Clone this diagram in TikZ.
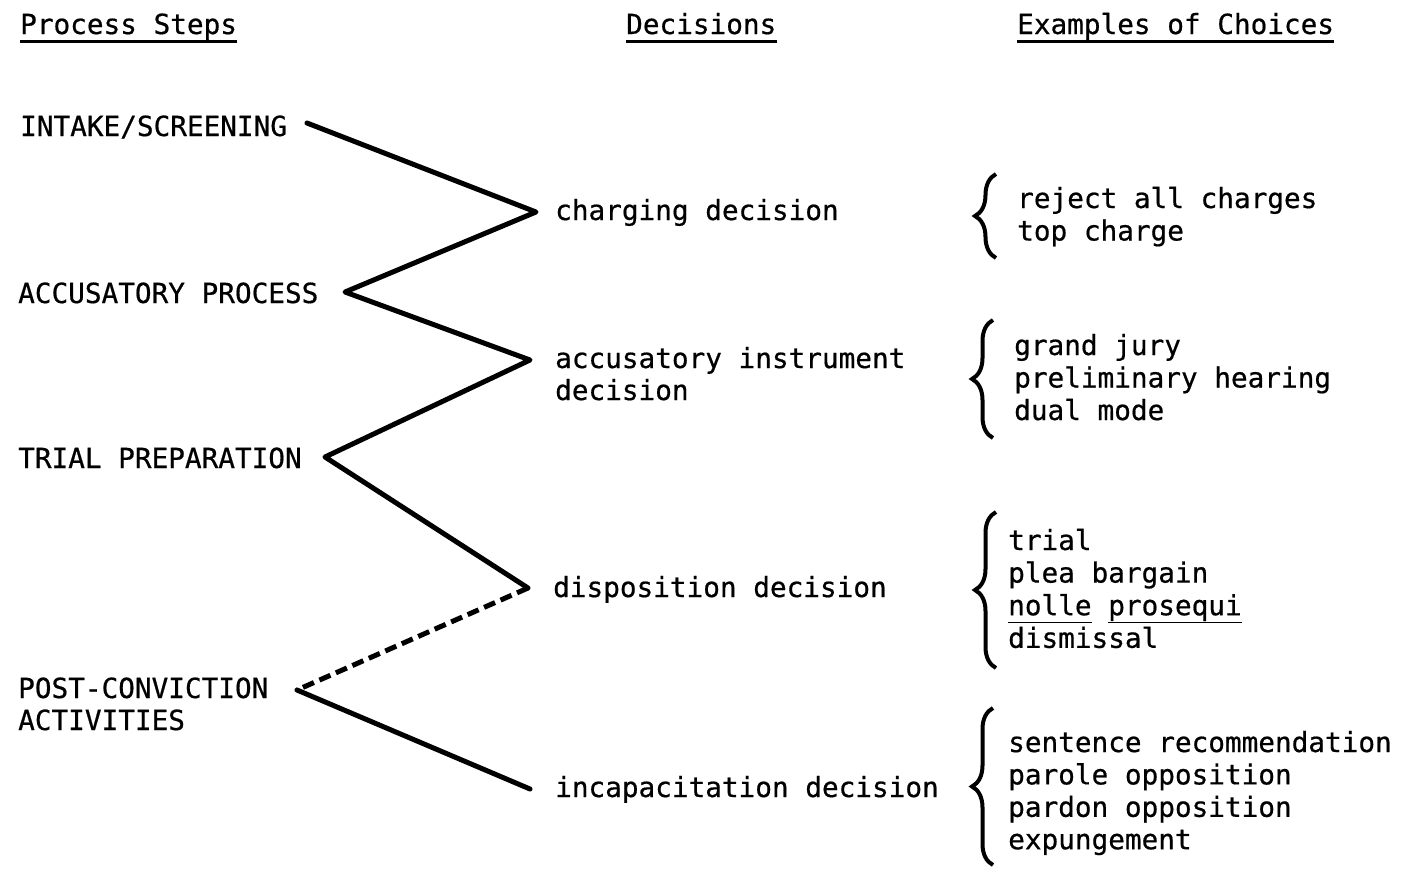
\documentclass[tikz,border=0pt]{standalone}
\usepackage{fontspec}
\setmainfont[FakeBold=0.6,AutoFakeBold=0.6]{DejaVu Sans Mono}
\usetikzlibrary{decorations.pathreplacing}
\tikzset{
  lbl/.style={inner sep=0pt, anchor=base west, font=\fontsize{27.7}{32.5}\selectfont\bfseries},
  link/.style={line width=5pt, line cap=round, line join=round},
  bracket/.style={line width=4pt, decorate, decoration={brace, amplitude=21pt}},
  rule/.style={line width=3pt}
}
\begin{document}
\begin{tikzpicture}[x=1pt,y=-1pt]
  \useasboundingbox (0,0) rectangle (1405,868);
  % column headers
  \node[lbl] (hdsteps) at (20,34) {Process Steps};
  \node[lbl] (hddec) at (626,34) {Decisions};
  \node[lbl] (hdex) at (1017,34) {Examples of Choices};
  \foreach \h in {hdsteps,hddec,hdex}
    \draw[rule] ([yshift=-7pt]\h.base west) -- ([yshift=-7pt]\h.base east);
  % process steps
  \node[lbl] (intake) at (20,136) {INTAKE/SCREENING};
  \node[lbl] (accuse) at (18,303) {ACCUSATORY PROCESS};
  \node[lbl] (trial) at (18,468) {TRIAL PREPARATION};
  \node[lbl] (post) at (18,698) {POST-CONVICTION};
  \node[lbl] (postb) at (18,730) {ACTIVITIES};
  % decisions
  \node[lbl] (charging) at (555,220) {charging decision};
  \node[lbl] (instr) at (555,368) {accusatory instrument};
  \node[lbl] (instrb) at (555,400) {decision};
  \node[lbl] (dispo) at (553,597) {disposition decision};
  \node[lbl] (incap) at (555,797) {incapacitation decision};
  % zigzag
  \coordinate (s1) at (307,123);
  \coordinate (d1) at (536,212);
  \coordinate (s2) at (345,292);
  \coordinate (d2) at (530,360);
  \coordinate (s3) at (325,457);
  \coordinate (d3) at (528,588);
  \coordinate (s4) at (297,690);
  \coordinate (d4) at (530,789);
  \draw[link] (s1) -- (d1) -- (s2) -- (d2) -- (s3) -- (d3);
  \draw[link, line cap=butt, dash pattern=on 12pt off 6pt] (d3) -- (s4);
  \draw[link] (s4) -- (d4);
  % examples of choices
  \draw[bracket] (996,258) -- (996,174);
  \foreach \t [count=\i] in {reject all charges, top charge}
    \node[lbl] (chg-\i) at (1017,208+32.5*\i-32.5) {\t};
  \draw[bracket] (993,438) -- (993,320);
  \foreach \t [count=\i] in {grand jury, preliminary hearing, dual mode}
    \node[lbl] (acc-\i) at (1014,355+32.5*\i-32.5) {\t};
  \draw[bracket] (996,668) -- (996,512);
  \foreach \t [count=\i] in {trial, plea bargain, {\underline{nolle\vphantom{p}} \underline{prosequi}}, dismissal}
    \node[lbl] (dis-\i) at (1008,550+32.6*\i-32.6) {\t};
  \draw[bracket] (993,865) -- (993,708);
  \foreach \t [count=\i] in {sentence recommendation, parole opposition, pardon opposition, expungement}
    \node[lbl] (inc-\i) at (1008,752+32.4*\i-32.4) {\t};
\end{tikzpicture}
\end{document}
